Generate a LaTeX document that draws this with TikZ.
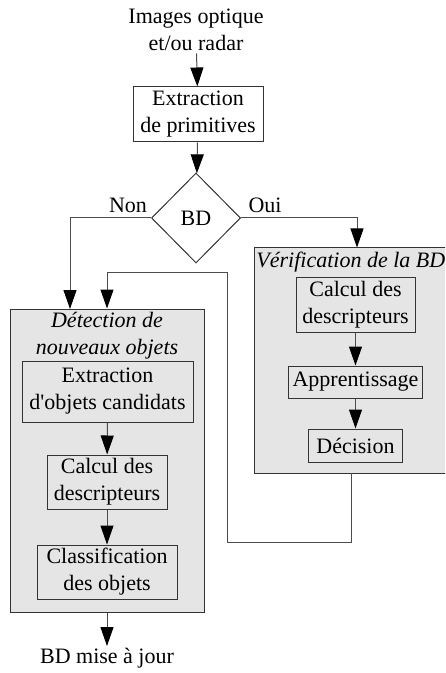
\documentclass[tikz,border=0pt]{standalone}
\usepackage{fontspec}
\setmainfont{Liberation Serif}
\usetikzlibrary{positioning,shapes.geometric,arrows.meta}

\begin{document}
\begin{tikzpicture}[x=0.5pt,y=-0.5pt,
  font=\fontsize{11}{13.5}\selectfont,
  arr/.style={draw=black!70,line width=0.5pt,-{Triangle[length=9.5pt,width=6.5pt,color=black]}},
  etape/.style={draw=black!80,line width=0.5pt,align=center,inner sep=1pt},
  groupe/.style={draw=black!80,line width=0.5pt,fill=gray!20,inner sep=0pt},
  titre/.style={font=\fontsize{11}{13.5}\selectfont\itshape,align=center,inner sep=1pt}]
\clip (0,0) rectangle (445,673);
\node[groupe, minimum width=97pt, minimum height=151.5pt] (det) at (107,460.5){};
\node[groupe, minimum width=103pt, minimum height=112.5pt] (verif) at (357,360.5){};
\node[align=center, inner sep=1pt] (src) at (196,30){Images optique\\et/ou radar};
\node[etape, minimum width=65pt, minimum height=27.5pt] (ext) at (198,114.5){Extraction\\de primitives};
\node[draw=black!80, line width=0.5pt, diamond, aspect=1, minimum width=44.5pt, minimum height=45pt, inner sep=0pt] (bd) at (196,218){BD};
\node[inner sep=1pt] (non) at (128,205){Non};
\node[inner sep=1pt] (oui) at (265,205){Oui};
\node[titre, anchor=west] (vtitre) at (254,262){Vérification de la BD};
\node[etape, minimum width=59.5pt, minimum height=27pt] (vcalc) at (355.5,305){Calcul des\\descripteurs};
\node[etape, minimum width=67pt, minimum height=16pt] (vapp) at (355.5,382){Apprentissage};
\node[etape, minimum width=47pt, minimum height=16.5pt] (vdec) at (355.5,445.5){Décision};
\node[titre] (dtitre) at (107,336){Détection de\\nouveaux objets};
\node[etape, minimum width=85.5pt, minimum height=30.5pt] (dext) at (107.5,391.5){Extraction\\d\textquotesingle objets candidats};
\node[etape, minimum width=60pt, minimum height=27pt] (dcalc) at (107,482){Calcul des\\descripteurs};
\node[etape, minimum width=70pt, minimum height=27pt] (dcls) at (107,572){Classification\\des objets};
\node[inner sep=1pt, anchor=north] (maj) at (107,646){BD mise à jour};
\coordinate (nonin) at (70,309);
\coordinate (fb) at (351,473);
\coordinate (fbturn) at (227,542);
\coordinate (fbtop) at (107,273);
\draw[arr] (src) -- (ext);
\draw[arr] (ext) -- (bd);
\draw[arr] (bd.west) -| (nonin);
\draw[arr] (bd.east) -| (verif.north);
\draw[arr] (vcalc) -- (vapp);
\draw[arr] (vapp) -- (vdec);
\draw[arr] (fb) |- (fbturn) |- (fbtop) -- (det.north);
\draw[arr] (dext) -- (dcalc);
\draw[arr] (dcalc) -- (dcls);
\draw[arr] (det.south) -- (maj);
\end{tikzpicture}
\end{document}
